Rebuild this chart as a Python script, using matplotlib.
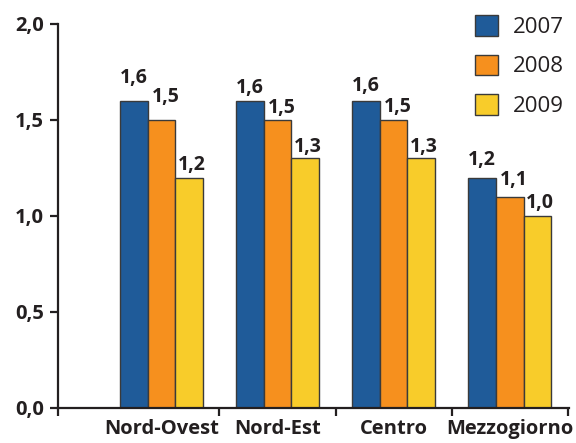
import numpy as np
import matplotlib.pyplot as plt

regions = ['Nord-Ovest', 'Nord-Est', 'Centro', 'Mezzogiorno']
years = ['2007', '2008', '2009']
v2007 = [1.6, 1.6, 1.6, 1.2]
v2008 = [1.5, 1.5, 1.5, 1.1]
v2009 = [1.2, 1.3, 1.3, 1.0]
colors = ['#1f5b99', '#f6901e', '#f8cc2a']

# label gap above each bar (pixels), per series, per region - hand placed in the original
gap_px = [[18, 8, 10, 13], [18, 7, 8, 12], [8, 6, 6, 8]]
dx_px = [0, 4, 3]

plt.rcParams['font.family'] = ['Open Sans', 'DejaVu Sans']
txt = '#231f20'

fig = plt.figure(figsize=(5.76, 4.43), dpi=100)
ax = fig.add_axes([58 / 576, 1 - 408 / 443, 511 / 576, 384 / 443])

x = np.arange(len(regions))
w = 0.237
series = [v2007, v2008, v2009]
for i, (vals, col, yr) in enumerate(zip(series, colors, years)):
    pos = x + (i - 1) * w
    ax.bar(pos, vals, width=w, color=col, edgecolor='#3a3a3a', linewidth=1, label=yr, zorder=2)
    for j, (px, v) in enumerate(zip(pos, vals)):
        ax.annotate(f'{v:.1f}'.replace('.', ','), (px, v),
                    xytext=(dx_px[i] * 0.72, gap_px[i][j] * 0.72),
                    textcoords='offset points', ha='center', va='baseline',
                    fontsize=14, fontweight='bold', color=txt)

ax.set_xlim(-0.89, 3.51)
ax.set_ylim(0, 2.0)
ax.set_yticks([0, 0.5, 1.0, 1.5, 2.0])
ax.set_yticklabels(['0,0', '0,5', '1,0', '1,5', '2,0'])
ax.set_xticks(x)
ax.set_xticklabels(regions)
ax.set_xticks([-0.89, 0.5, 1.5, 2.5, 3.5], minor=True)

for s in ['top', 'right']:
    ax.spines[s].set_visible(False)
for s in ['left', 'bottom']:
    ax.spines[s].set_linewidth(1.6)
    ax.spines[s].set_color(txt)

ax.tick_params(axis='y', length=6, width=1.6, color=txt, pad=4, labelsize=14.5, labelcolor=txt)
ax.tick_params(axis='x', which='major', length=0, pad=8, labelsize=14.5, labelcolor=txt)
ax.tick_params(axis='x', which='minor', length=6, width=1.6, color=txt)
for lab in ax.get_xticklabels() + ax.get_yticklabels():
    lab.set_fontweight('bold')

leg = ax.legend(loc='upper left', bbox_to_anchor=(475 / 576, 1 - 15 / 443),
                bbox_transform=fig.transFigure, frameon=False, fontsize=16,
                handlelength=1.05, handleheight=1.05, handletextpad=0.65,
                labelspacing=0.75, borderpad=0, borderaxespad=0)
for t in leg.get_texts():
    t.set_color(txt)

fig.savefig('out.png', dpi=100)
